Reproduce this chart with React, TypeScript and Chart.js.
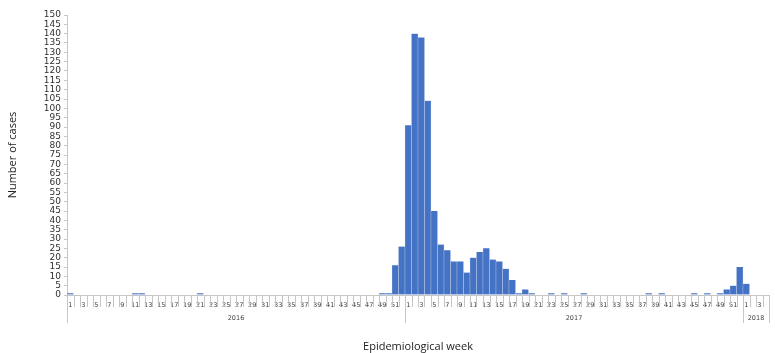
import React, { useEffect, useRef } from 'react';
import { Chart, registerables } from 'chart.js';

Chart.register(...registerables);

// Epidemiological weeks per year shown on the axis
const years = ['2016', '2017', '2018'];
const weeksPerYear = [52, 52, 4];

// Number of cases per week
const cases2016 = [
  1, 0, 0, 0, 0, 0, 0, 0, 0, 0,
  1, 1, 0, 0, 0, 0, 0, 0, 0, 0,
  1, 0, 0, 0, 0, 0, 0, 0, 0, 0,
  0, 0, 0, 0, 0, 0, 0, 0, 0, 0,
  0, 0, 0, 0, 0, 0, 0, 0, 1, 1,
  16, 26,
];
const cases2017 = [
  91, 140, 138, 104, 45, 27, 24, 18, 18, 12,
  20, 23, 25, 19, 18, 14, 8, 1, 3, 1,
  0, 0, 1, 0, 1, 0, 0, 1, 0, 0,
  0, 0, 0, 0, 0, 0, 0, 1, 0, 1,
  0, 0, 0, 0, 1, 0, 1, 0, 1, 3,
  5, 15,
];
const cases2018 = [6, 0, 0, 0];

const yTickValues = [
  0, 5, 10, 15, 20, 25, 30, 35, 40, 45, 50, 55, 60, 65, 70, 75,
  80, 85, 90, 95, 100, 105, 110, 115, 120, 125, 130, 135, 140, 145, 150,
];

const yTitle = 'Number of cases';
const xTitle = 'Epidemiological week';

const weekLabels: string[] = [];
weeksPerYear.forEach((n) => {
  for (let w = 1; w <= n; w++) weekLabels.push(String(w));
});
const allCases = [...cases2016, ...cases2017, ...cases2018];

const TICK_FONT = '"DejaVu Sans", Verdana, sans-serif';
const TITLE_FONT = '"Open Sans", "DejaVu Sans", sans-serif';

const groupPlugin = {
  id: 'yearGroups',
  afterDraw(chart: any) {
    const x = chart.scales.x;
    const ctx = chart.ctx;
    const n = chart.data.labels.length;
    const top = x.top;
    const half = (x.getPixelForValue(1) - x.getPixelForValue(0)) / 2;
    ctx.save();
    ctx.strokeStyle = '#c6c6c6';
    ctx.lineWidth = 1;
    ctx.beginPath();
    for (let i = 0; i <= n; i++) {
      const px = i < n ? x.getPixelForValue(i) - half : x.getPixelForValue(n - 1) + half;
      const xx = Math.round(px) + 0.5;
      ctx.moveTo(xx, top);
      ctx.lineTo(xx, top + 12);
    }
    ctx.stroke();
    let start = 0;
    ctx.fillStyle = '#404040';
    ctx.font = '6.5px ' + TICK_FONT;
    ctx.textAlign = 'center';
    ctx.textBaseline = 'middle';
    years.forEach((yr, gi) => {
      const end = start + weeksPerYear[gi];
      const left = x.getPixelForValue(start) - half;
      const right = x.getPixelForValue(end - 1) + half;
      ctx.beginPath();
      ctx.moveTo(Math.round(left) + 0.5, top);
      ctx.lineTo(Math.round(left) + 0.5, top + 28);
      ctx.moveTo(Math.round(right) + 0.5, top);
      ctx.lineTo(Math.round(right) + 0.5, top + 28);
      ctx.stroke();
      ctx.fillText(yr, (left + right) / 2, top + 23);
      start = end;
    });
    ctx.restore();
  },
};

export default function App() {
  const ref = useRef<HTMLCanvasElement | null>(null);

  useEffect(() => {
    document.body.style.margin = '0';
    const canvas = ref.current;
    if (!canvas) return;
    const chart = new Chart(canvas, {
      type: 'bar',
      data: {
        labels: weekLabels,
        datasets: [
          {
            data: allCases,
            backgroundColor: '#4472c4',
            borderColor: '#c3cfe6',
            borderWidth: { left: 0.5, right: 0.5, top: 0, bottom: 0 } as any,
            borderSkipped: false as any,
            barPercentage: 1,
            categoryPercentage: 1,
          },
        ],
      },
      options: {
        responsive: false,
        animation: false,
        layout: { padding: { top: 15, right: 6, bottom: 0, left: 0 } },
        plugins: {
          legend: { display: false },
          tooltip: { enabled: false },
        },
        scales: {
          x: {
            type: 'category',
            grid: { display: false },
            border: { display: true, color: '#c6c6c6' },
            afterFit: (s: any) => {
              s.height = 58;
            },
            ticks: {
              autoSkip: false,
              maxRotation: 0,
              minRotation: 0,
              padding: -2,
              color: '#404040',
              font: { family: TICK_FONT, size: 6.5 },
              callback: (_v: any, i: number) => {
                const w = Number(weekLabels[i]);
                return w % 2 === 1 ? weekLabels[i] : '';
              },
            },
            title: {
              display: true,
              text: xTitle,
              color: '#222',
              font: { family: TITLE_FONT, size: 11 },
              padding: { top: 0, bottom: 0 },
            },
          },
          y: {
            min: 0,
            max: 150,
            afterBuildTicks: (s: any) => {
              s.ticks = yTickValues.map((v) => ({ value: v }));
            },
            afterFit: (s: any) => {
              s.width = 67;
            },
            grid: {
              display: true,
              drawOnChartArea: false,
              drawTicks: true,
              tickLength: 3,
              color: '#c6c6c6',
            },
            border: { display: true, color: '#c6c6c6' },
            ticks: {
              autoSkip: false,
              padding: 3,
              color: '#303030',
              font: { family: TICK_FONT, size: 9 },
            },
            title: {
              display: true,
              text: yTitle,
              color: '#222',
              font: { family: TITLE_FONT, size: 11 },
              padding: { top: 6, bottom: 0 },
            },
          },
        },
      },
      plugins: [groupPlugin],
    });
    return () => chart.destroy();
  }, []);

  return (
    <div style={{ width: 775, height: 353, background: '#fff' }}>
      <canvas ref={ref} width={775} height={353} style={{ display: 'block' }} />
    </div>
  );
}
